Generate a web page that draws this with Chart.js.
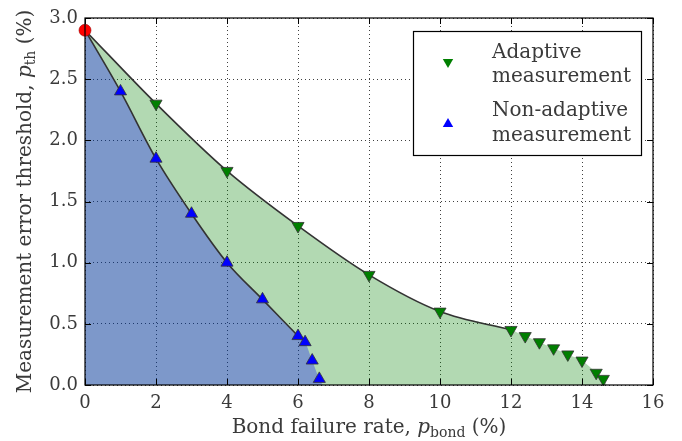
<!DOCTYPE html>
<html>
<head>
<meta charset="utf-8">
<script src="https://cdn.jsdelivr.net/npm/chart.js@4.4.1/dist/chart.umd.min.js"></script>
<style>
  html, body { margin: 0; padding: 0; background: #fff; }
  #wrap { width: 682px; height: 441px; }
</style>
</head>
<body>
<div id="wrap"><canvas id="c" width="682" height="441"></canvas></div>
<script>
// values (percent)
const startPoint = { x: 0, y: 2.9 };

const adaptiveX = [2, 4, 6, 8, 10, 12, 12.4, 12.8, 13.2, 13.6, 14, 14.4, 14.6];
const adaptiveY = [2.3, 1.75, 1.3, 0.9, 0.6, 0.45, 0.4, 0.35, 0.3, 0.25, 0.2, 0.1, 0.05];
const adaptiveLineEnd = 12;      // fitted curve drawn up to here
const adaptiveFillEnd = 14.7;    // shaded region meets the axis here

const nonAdaptiveX = [1, 2, 3, 4, 5, 6, 6.2, 6.4, 6.6];
const nonAdaptiveY = [2.4, 1.85, 1.4, 1.0, 0.7, 0.4, 0.35, 0.2, 0.05];
const nonAdaptiveLineEnd = 6;
const nonAdaptiveFillEnd = 6.7;

const xTicks = [0, 2, 4, 6, 8, 10, 12, 14, 16];
const yTicks = [0.0, 0.5, 1.0, 1.5, 2.0, 2.5, 3.0];

const FONT = '"DejaVu Serif", "Liberation Serif", serif';
const TXT = '#3a3a3a';

function pts(xs, ys) { return xs.map((x, i) => ({ x: x, y: ys[i] })); }

const adaptivePts = pts(adaptiveX, adaptiveY);
const nonAdaptivePts = pts(nonAdaptiveX, nonAdaptiveY);

const adaptiveFill = [startPoint].concat(adaptivePts, [{ x: adaptiveFillEnd, y: 0 }]);
const nonAdaptiveFill = [startPoint].concat(nonAdaptivePts, [{ x: nonAdaptiveFillEnd, y: 0 }]);
const adaptiveLine = [startPoint].concat(adaptivePts.filter(p => p.x <= adaptiveLineEnd));
const nonAdaptiveLine = [startPoint].concat(nonAdaptivePts.filter(p => p.x <= nonAdaptiveLineEnd));

// frame + inward ticks on all four sides
const framePlugin = {
    id: 'frame',
    afterDraw(chart) {
        const { ctx, chartArea: a, scales } = chart;
        ctx.save();
        ctx.strokeStyle = '#000';
        ctx.lineWidth = 1.2;
        ctx.strokeRect(a.left, a.top, a.right - a.left, a.bottom - a.top);
        ctx.lineWidth = 1;
        const L = 6;
        ctx.beginPath();
        xTicks.forEach(v => {
            const px = Math.round(scales.x.getPixelForValue(v)) + 0.5;
            ctx.moveTo(px, a.bottom); ctx.lineTo(px, a.bottom - L);
            ctx.moveTo(px, a.top); ctx.lineTo(px, a.top + L);
        });
        yTicks.forEach(v => {
            const py = Math.round(scales.y.getPixelForValue(v)) + 0.5;
            ctx.moveTo(a.left, py); ctx.lineTo(a.left + L, py);
            ctx.moveTo(a.right, py); ctx.lineTo(a.right - L, py);
        });
        ctx.stroke();
        ctx.restore();
    }
};

// text pieces: [text, style] where style = 'n' normal, 'i' italic, 's' subscript
function setFont(ctx, s, size) {
    ctx.font = (s === 'i' ? 'italic ' : '') + (s === 's' ? Math.round(size * 0.72) : size) + 'px ' + FONT;
}
function pieceWidth(ctx, pieces, size) {
    let w = 0;
    pieces.forEach(([t, s]) => { setFont(ctx, s, size); w += ctx.measureText(t).width; });
    return w;
}
function drawPieces(ctx, pieces, x, y, size) {
    pieces.forEach(([t, s]) => {
        setFont(ctx, s, size);
        ctx.fillText(t, x, s === 's' ? y + size * 0.22 : y);
        x += ctx.measureText(t).width;
    });
}

const titlePlugin = {
    id: 'axisTitles',
    afterDraw(chart) {
        const { ctx, chartArea: a } = chart;
        const size = 20;
        ctx.save();
        ctx.fillStyle = TXT;
        ctx.textBaseline = 'alphabetic';
        ctx.textAlign = 'left';
        const xp = [['Bond failure rate, ', 'n'], ['p', 'i'], ['bond', 's'], [' (%)', 'n']];
        const xw = pieceWidth(ctx, xp, size);
        drawPieces(ctx, xp, (a.left + a.right) / 2 - xw / 2, 433, size);

        const yp = [['Measurement error threshold, ', 'n'], ['p', 'i'], ['th', 's'], [' (%)', 'n']];
        const yw = pieceWidth(ctx, yp, size);
        ctx.translate(31, (a.top + a.bottom) / 2);
        ctx.rotate(-Math.PI / 2);
        drawPieces(ctx, yp, -yw / 2, 0, size);
        ctx.restore();
    }
};

const legendPlugin = {
    id: 'boxLegend',
    afterDraw(chart) {
        const ctx = chart.ctx;
        ctx.save();
        ctx.fillStyle = '#fff';
        ctx.fillRect(413, 31, 228, 124);
        ctx.strokeStyle = '#000';
        ctx.lineWidth = 1.2;
        ctx.strokeRect(413.5, 31.5, 228, 124);

        ctx.lineWidth = 0.8;
        ctx.strokeStyle = '#333';
        ctx.fillStyle = '#007f00';
        Chart.helpers.drawPoint(ctx, { pointStyle: 'triangle', rotation: 180, radius: 6 }, 448, 62);
        ctx.fillStyle = '#0000ff';
        Chart.helpers.drawPoint(ctx, { pointStyle: 'triangle', rotation: 0, radius: 6 }, 448, 124);

        ctx.fillStyle = TXT;
        ctx.font = '20px ' + FONT;
        ctx.textAlign = 'left';
        ctx.textBaseline = 'alphabetic';
        ctx.fillText('Adaptive', 492, 58);
        ctx.fillText('measurement', 492, 82);
        ctx.fillText('Non-adaptive', 492, 116);
        ctx.fillText('measurement', 492, 141);
        ctx.restore();
    }
};

const lineStyle = { showLine: true, pointRadius: 0, borderColor: '#333', borderWidth: 1.6, cubicInterpolationMode: 'monotone', fill: false };

new Chart(document.getElementById('c'), {
    type: 'scatter',
    data: {
        datasets: [
            { label: 'start', data: [startPoint], pointStyle: 'circle', pointRadius: 6, backgroundColor: '#ff0000', borderColor: '#900', borderWidth: 0.6, clip: false, order: 0 },
            { label: 'Non-adaptive measurement', data: nonAdaptivePts, pointStyle: 'triangle', pointRadius: 7, backgroundColor: '#0000ff', borderColor: '#333', borderWidth: 0.8, clip: false, order: 1 },
            { label: 'Adaptive measurement', data: adaptivePts, pointStyle: 'triangle', rotation: 180, pointRadius: 7, backgroundColor: '#007f00', borderColor: '#333', borderWidth: 0.8, clip: false, order: 2 },
            Object.assign({ label: 'na line', data: nonAdaptiveLine, order: 3 }, lineStyle),
            Object.assign({ label: 'a line', data: adaptiveLine, order: 4 }, lineStyle),
            { label: 'na fill', data: nonAdaptiveFill, showLine: true, pointRadius: 0, borderWidth: 0, borderColor: 'rgba(0,0,0,0)', backgroundColor: 'rgba(0,0,255,0.3)', fill: 'origin', cubicInterpolationMode: 'monotone', order: 5 },
            { label: 'a fill', data: adaptiveFill, showLine: true, pointRadius: 0, borderWidth: 0, borderColor: 'rgba(0,0,0,0)', backgroundColor: 'rgba(0,128,0,0.3)', fill: 'origin', cubicInterpolationMode: 'monotone', order: 6 }
        ]
    },
    options: {
        responsive: false,
        animation: false,
        layout: { padding: { top: 18, right: 29, left: 0, bottom: 0 } },
        plugins: { legend: { display: false }, tooltip: { enabled: false } },
        scales: {
            x: {
                type: 'linear', min: 0, max: 16, z: 1,
                afterBuildTicks: s => { s.ticks = xTicks.map(v => ({ value: v })); },
                afterFit: s => { s.height = 56; },
                grid: { color: 'rgba(0,0,0,0.75)', lineWidth: 1, drawTicks: false },
                border: { display: false, dash: [1, 3] },
                ticks: { color: TXT, font: { family: FONT, size: 18 }, padding: 8, maxRotation: 0 }
            },
            y: {
                type: 'linear', min: 0, max: 3, z: 1,
                afterBuildTicks: s => { s.ticks = yTicks.map(v => ({ value: v })); },
                afterFit: s => { s.width = 85; },
                grid: { color: 'rgba(0,0,0,0.75)', lineWidth: 1, drawTicks: false },
                border: { display: false, dash: [1, 3] },
                ticks: { color: TXT, font: { family: FONT, size: 18 }, padding: 7, callback: v => v.toFixed(1) }
            }
        }
    },
    plugins: [framePlugin, titlePlugin, legendPlugin]
});
</script>
</body>
</html>
